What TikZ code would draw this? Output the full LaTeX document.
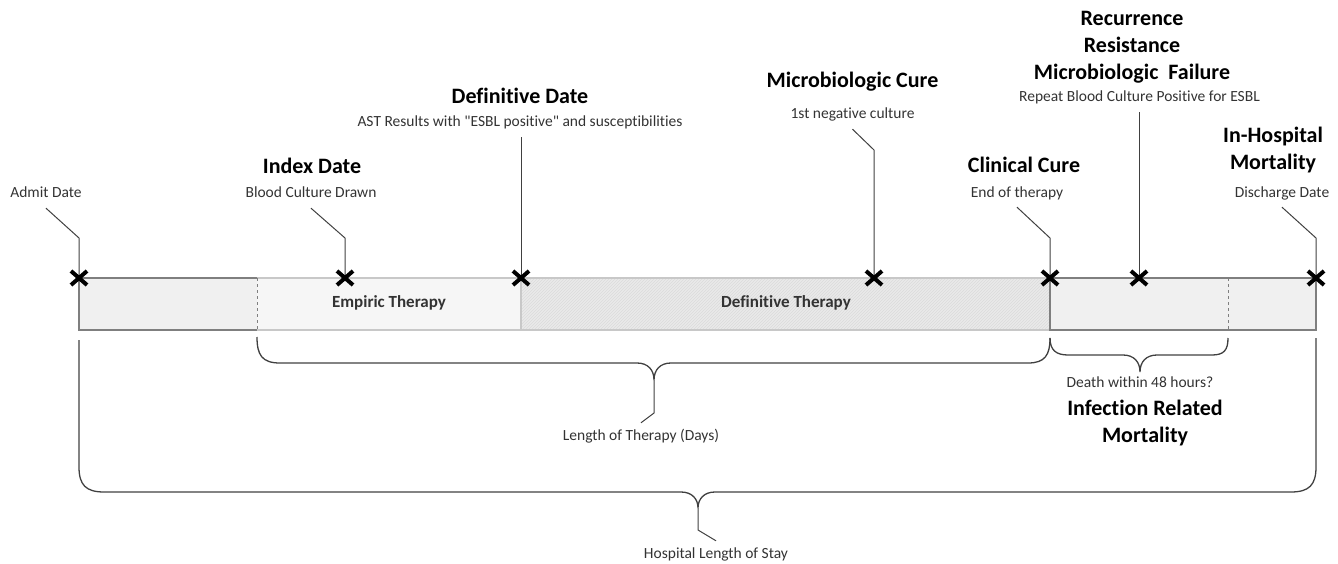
\documentclass[tikz,border=0pt]{standalone}
\usepackage{fontspec}
\setmainfont{Carlito}[Ligatures={TeXOff,NoCommon}]
\usetikzlibrary{patterns}
\definecolor{edgedark}{HTML}{7F7F7F}
\definecolor{edgelight}{HTML}{C8C8C8}
\definecolor{fillA}{HTML}{F0F0F0}
\definecolor{fillB}{HTML}{F6F6F6}
\definecolor{fillC}{HTML}{EAEAEA}
\definecolor{linec}{HTML}{404040}
\definecolor{txtc}{HTML}{333333}
\begin{document}
\begin{tikzpicture}[x=1pt,y=-1pt,
 lbl/.style={font=\fontsize{15.5}{18}\selectfont, text=txtc, anchor=base, inner xsep=1pt, inner ysep=6pt, text height=11pt, text depth=4pt},
 ttl/.style={font=\bfseries\fontsize{22}{27}\selectfont, anchor=base, align=center, inner sep=0pt},
 bartxt/.style={font=\bfseries\fontsize{17}{20}\selectfont, text=txtc, anchor=base},
 leader/.style={draw=linec, line width=1pt},
 brace/.style={draw=linec, line width=1.3pt},
 xmk/.style={line width=4pt, black},
]
\useasboundingbox (0,0) rectangle (1338,564);

% bar segments
\fill[fillA] (79,278) rectangle (257,330);
\fill[fillB] (257,278) rectangle (521,330);
\fill[fillC] (521,278) rectangle (1050,330);
\fill[pattern=north east lines, pattern color=black!14] (521,278) rectangle (1050,330);
\fill[fillA] (1050,278) rectangle (1316,330);
\draw[edgelight, line width=1.2pt] (257,278) -- (1050,278) (257,330) -- (1050,330) (521,278) -- (521,330);
\draw[edgedark, line width=1.2pt] (257,278) -- (79,278) -- (79,330) -- (257,330);
\draw[edgedark, line width=1.2pt] (1050,278) -- (1316,278) -- (1316,330) -- (1050,330) -- cycle;
\draw[edgedark, dashed, line width=0.8pt] (257,278) -- (257,330) (1228,278) -- (1228,330);

\node[bartxt] (emp) at (389,307) {Empiric Therapy};
\node[bartxt] (deft) at (786,307) {Definitive Therapy};

% event points
\coordinate (xA) at (79,278);
\coordinate (xI) at (345,278);
\coordinate (xD) at (521,278);
\coordinate (xM) at (874,278);
\coordinate (xC) at (1050,278);
\coordinate (xR) at (1139,278);
\coordinate (xH) at (1316,278);

% labels above
\node[lbl] (admit) at (46,198) {Admit Date};
\node[ttl] (index) at (312,174) {Index Date};
\node[lbl] (blood) at (311,198) {Blood Culture Drawn};
\node[ttl] (defdate) at (520,104) {Definitive Date};
\node[lbl] (ast) at (520,127) {AST Results with "ESBL positive" and susceptibilities};
\node[ttl] (mcure) at (852.5,88) {Microbiologic Cure};
\node[lbl] (cult) at (852.5,119) {1st negative culture};
\node[ttl] (ccure) at (1024,173) {Clinical Cure};
\node[lbl] (endth) at (1017,197) {End of therapy};
\node[ttl] (rec) at (1132,80) {Recurrence\\Resistance\\Microbiologic\ \ Failure};
\node[lbl] (rep) at (1139.5,102) {Repeat Blood Culture Positive for ESBL};
\node[ttl] (ihm) at (1273,170) {In-Hospital\\Mortality};
\node[lbl] (disch) at (1282,197) {Discharge Date};

% leaders
\draw[leader] (xA) -- ++(0,-40) -- (admit.south);
\draw[leader] (xI) -- ++(0,-40) -- (blood.south);
\draw[leader] (xD) -- (xD |- ast.south);
\draw[leader] (xM) -- ++(0,-128) -- (cult.south);
\draw[leader] (xC) -- ++(0,-40) -- (endth.south);
\draw[leader] (xR) -- (xR |- rep.south);
\draw[leader] (xH) -- ++(0,-40) -- (disch.south);

% braces
\coordinate (tT) at (654,380);
\coordinate (tD) at (1140,372);
\coordinate (tL) at (698,508);
\draw[brace] (257,337) .. controls (257,355) and (262,363) .. (280,363) -- (637,363)
  .. controls (648,363) and (654,370) .. (tT)
  .. controls (654,370) and (660,363) .. (671,363) -- (1028,363)
  .. controls (1045,363) and (1050,355) .. (1050,338);
\draw[brace] (1050,338) .. controls (1050,350) and (1056,355) .. (1068,355) -- (1123,355)
  .. controls (1134,355) and (1140,362) .. (tD)
  .. controls (1140,362) and (1146,355) .. (1157,355) -- (1212,355)
  .. controls (1224,355) and (1228,350) .. (1228,338);
\draw[brace] (79,340) -- (79,467) .. controls (79,485) and (86,492) .. (104,492) -- (681,492)
  .. controls (692,492) and (698,499) .. (tL)
  .. controls (698,499) and (704,492) .. (715,492) -- (1291,492)
  .. controls (1309,492) and (1316,485) .. (1316,467) -- (1316,338);

% labels below
\node[lbl] (lot) at (641,440) {Length of Therapy (Days)};
\node[lbl] (los) at (716,558) {Hospital Length of Stay};
\node[lbl] (death) at (1140,387) {Death within 48 hours?};
\node[ttl] (irm) at (1145,442) {Infection Related\\Mortality};
\draw[leader] (tT) -- ++(0,33) -- (lot.north);
\draw[leader] (tL) -- ++(0,22) -- (los.north);

% X marks
\foreach \p in {xA,xI,xD,xM,xC,xR,xH}
  \draw[xmk] ([shift={(-8,-7)}]\p) -- ([shift={(8,7)}]\p) ([shift={(-8,7)}]\p) -- ([shift={(8,-7)}]\p);
\end{tikzpicture}
\end{document}
